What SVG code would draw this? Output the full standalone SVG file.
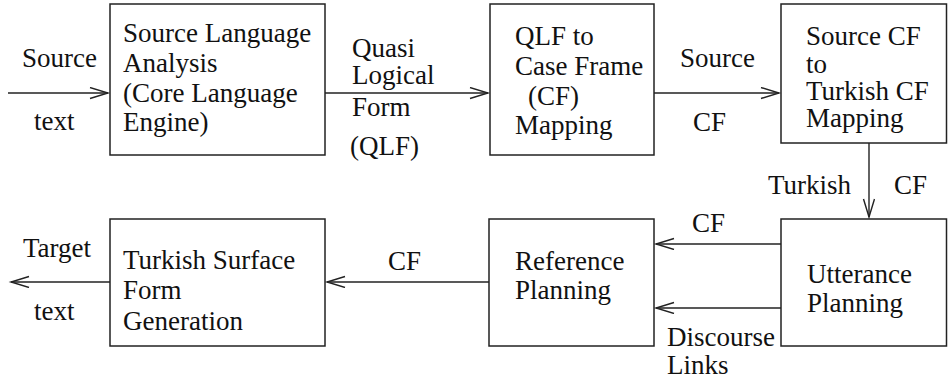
<svg xmlns="http://www.w3.org/2000/svg" width="948" height="382" viewBox="0 0 948 382">
<style>
text{font-family:"Liberation Serif","Times New Roman",serif;font-size:27px;fill:#111}
.box{fill:#fff;stroke:#222;stroke-width:1.5}
.c{fill:none;stroke:#222;stroke-width:1.4}
</style>
<defs>
<marker id="ah" markerUnits="userSpaceOnUse" markerWidth="22" markerHeight="14" refX="19" refY="6" orient="auto" viewBox="0 0 22 14">
<path d="M1,0.5 L19,6 L1,11.5" fill="none" stroke="#222" stroke-width="1.4"/>
</marker>
</defs>
<rect width="948" height="382" fill="#fff"/>
<g id="connectors">
<line class="c" x1="8" y1="93" x2="108" y2="93" marker-end="url(#ah)"/>
<line class="c" x1="325" y1="93" x2="488" y2="93" marker-end="url(#ah)"/>
<line class="c" x1="654" y1="93" x2="779" y2="93" marker-end="url(#ah)"/>
<line class="c" x1="869" y1="143" x2="869" y2="217" marker-end="url(#ah)"/>
<line class="c" x1="781" y1="244" x2="656" y2="244" marker-end="url(#ah)"/>
<line class="c" x1="781" y1="308" x2="656" y2="308" marker-end="url(#ah)"/>
<line class="c" x1="489" y1="282" x2="327" y2="282" marker-end="url(#ah)"/>
<line class="c" x1="110" y1="282" x2="11" y2="282" marker-end="url(#ah)"/>
<text x="22" y="67">Source</text>
<text x="34" y="130">text</text>
<text x="352" y="57">Quasi</text>
<text x="352" y="84">Logical</text>
<text x="352" y="116">Form</text>
<text x="350" y="155">(QLF)</text>
<text x="680" y="67">Source</text>
<text x="693" y="131">CF</text>
<text x="768" y="194">Turkish</text>
<text x="894" y="194">CF</text>
<text x="692" y="232">CF</text>
<text x="667" y="346">Discourse</text>
<text x="667" y="374">Links</text>
<text x="388" y="270">CF</text>
<text x="23" y="257">Target</text>
<text x="34" y="320">text</text>
</g>
<g id="n-analysis">
<rect class="box" x="110" y="4" width="215" height="151"/>
<text x="123" y="42">Source Language</text>
<text x="123" y="72">Analysis</text>
<text x="123" y="102">(Core Language</text>
<text x="123" y="131">Engine)</text>
</g>
<g id="n-qlf-cf">
<rect class="box" x="490" y="4" width="164" height="151"/>
<text x="515" y="45">QLF to</text>
<text x="515" y="75">Case Frame</text>
<text x="528" y="105">(CF)</text>
<text x="515" y="134">Mapping</text>
</g>
<g id="n-cf-turkish">
<rect class="box" x="781" y="4" width="165.5" height="139"/>
<text x="806" y="45">Source CF</text>
<text x="806" y="73">to</text>
<text x="806" y="100">Turkish CF</text>
<text x="806" y="127">Mapping</text>
</g>
<g id="n-utterance">
<rect class="box" x="781" y="219" width="165.5" height="127"/>
<text x="807" y="283">Utterance</text>
<text x="807" y="312">Planning</text>
</g>
<g id="n-reference">
<rect class="box" x="489" y="219" width="165" height="127"/>
<text x="515" y="270">Reference</text>
<text x="515" y="299">Planning</text>
</g>
<g id="n-surface">
<rect class="box" x="110" y="219" width="215" height="127"/>
<text x="123" y="269">Turkish Surface</text>
<text x="123" y="299">Form</text>
<text x="123" y="330">Generation</text>
</g>
</svg>
